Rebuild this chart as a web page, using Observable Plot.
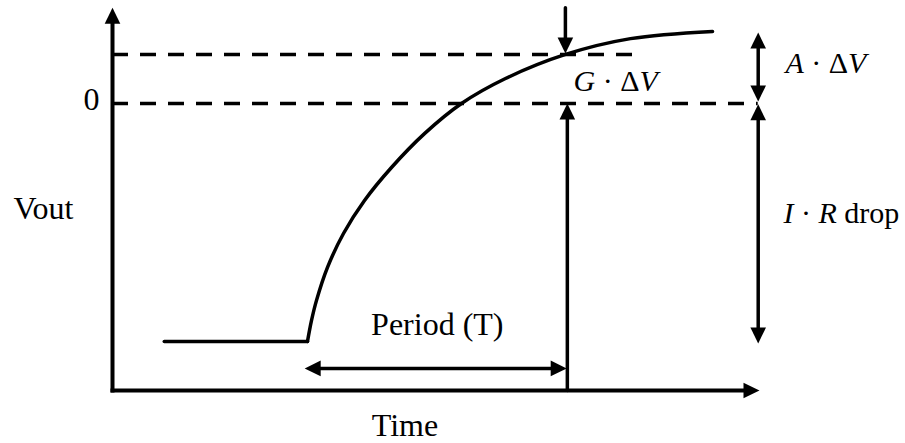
<!DOCTYPE html>
<html><head><meta charset="utf-8">
<script src="https://cdn.jsdelivr.net/npm/d3@7"></script>
<script src="https://cdn.jsdelivr.net/npm/@observablehq/plot@0.6"></script>
<style>html,body{margin:0;padding:0;background:#fff;} svg{display:block}</style>
</head><body><div id="chart"></div>
<script>
// ---- data (time units, volt units) ----
const flatTime = [8, 30.14];
const flatVout = [-8.29, -8.29];
const riseTime = [30.14, 30.76, 31.53, 33.23, 35.70, 38.95, 43.12, 48.22, 53.94, 60.74, 70.02, 80.06, 92.74];
const riseVout = [-8.29, -7.56, -6.86, -5.71, -4.53, -3.38, -2.23, -1.05, 0, 0.87, 1.71, 2.26, 2.51];
const zeroLevel = 0;
const gLevel = 1.71;
const axisBottom = -10, axisTop = 3.34, axisEnd = 100;
const gDashEnd = 80.4, zeroDashEnd = 99.8;
const sampleTime = 70.3;
const periodStart = 29.7, periodEnd = 70.2, periodLevel = -9.23;
const rightArrowTime = 99.8;
const aTop = 2.47, aBottom = 0.07, irTop = -0.03, irBottom = -8.36;
const labelTexts = ["0", "Vout", "Time", "Period (T)", "G · ΔV", "A · ΔV", "I · R drop"];
const labelTime  = [-2.0, -15.3, 45.2, 50.2, 71.25, 104.0, 103.7];
const labelVout  = [-0.24, -4.04, -11.57, -8.08, 0.45, 1.05, -4.18];
const labelAnchor = ["end", "start", "middle", "middle", "start", "start", "start"];
const labelMath = [false, false, false, false, true, true, true];

// ---- tables ----
const flat = flatTime.map((t, i) => ({t, v: flatVout[i]}));
const rise = riseTime.map((t, i) => ({t, v: riseVout[i]}));
const axes = [
  {x1: 0, y1: axisBottom, x2: 0, y2: axisTop},
  {x1: 0, y1: axisBottom, x2: axisEnd, y2: axisBottom}
];
const single = [
  {x1: sampleTime, y1: axisBottom, x2: sampleTime, y2: zeroLevel},
  {x1: 70.0, y1: axisTop, x2: 70.0, y2: 1.74}
];
const double = [
  {x1: periodStart, y1: periodLevel, x2: periodEnd, y2: periodLevel},
  {x1: rightArrowTime, y1: aTop, x2: rightArrowTime, y2: aBottom},
  {x1: rightArrowTime, y1: irTop, x2: rightArrowTime, y2: irBottom}
];
function rot(a, b) { // direction from a to b (screen)
  const ux = Math.sign(b.x - a.x), uy = -Math.sign(b.y - a.y);
  return Math.atan2(ux, -uy) * 180 / Math.PI;
}
const heads = [];
for (const d of [...axes, ...single, ...double]) {
  heads.push({x: d.x2, y: d.y2, r: rot({x: d.x1, y: d.y1}, {x: d.x2, y: d.y2})});
}
for (const d of double) {
  heads.push({x: d.x1, y: d.y1, r: rot({x: d.x2, y: d.y2}, {x: d.x1, y: d.y1})});
}
const labels = labelTexts.map((text, i) => ({text, t: labelTime[i], v: labelVout[i], anchor: labelAnchor[i], math: labelMath[i]}));

const headSymbol = {draw(ctx) { ctx.moveTo(0, 0); ctx.lineTo(-7.8, 16); ctx.lineTo(7.8, 16); ctx.closePath(); }};
const font = {fontFamily: "Liberation Serif, Times New Roman, serif", fill: "black", lineAnchor: "bottom"};
const textMarks = [];
for (const anchor of ["start", "middle", "end"]) {
  for (const math of [false, true]) {
    const sub = labels.filter(d => d.anchor === anchor && d.math === math);
    if (sub.length) textMarks.push(Plot.text(sub, {x: "t", y: "v", text: "text", textAnchor: anchor, fontSize: math ? 30 : 32, ...font}));
  }
}

const chart = Plot.plot({
  width: 905, height: 443, margin: 0,
  x: {domain: [0, 100], range: [112, 759], axis: null},
  y: {domain: [0, -10], range: [103, 390], axis: null},
  marks: [
    Plot.ruleY([gLevel], {x1: 0, x2: gDashEnd, stroke: "black", strokeWidth: 3.5, strokeDasharray: "16,12"}),
    Plot.ruleY([zeroLevel], {x1: 0, x2: zeroDashEnd, stroke: "black", strokeWidth: 3.5, strokeDasharray: "16,12"}),
    Plot.arrow(axes, {x1: "x1", y1: "y1", x2: "x2", y2: "y2", headLength: 0, insetEnd: 9, stroke: "black", strokeWidth: 4, strokeLinecap: "square"}),
    Plot.arrow(single, {x1: "x1", y1: "y1", x2: "x2", y2: "y2", headLength: 0, insetEnd: 9, stroke: "black", strokeWidth: 3.5}),
    Plot.arrow(double, {x1: "x1", y1: "y1", x2: "x2", y2: "y2", headLength: 0, insetStart: 9, insetEnd: 9, stroke: "black", strokeWidth: 3.5}),
    Plot.line(flat, {x: "t", y: "v", stroke: "black", strokeWidth: 3.5}),
    Plot.line(rise, {x: "t", y: "v", stroke: "black", strokeWidth: 3.5, curve: "catmull-rom"}),
    Plot.dot(heads, {x: "x", y: "y", rotate: "r", symbol: headSymbol, fill: "black", stroke: "none"}),
    ...textMarks
  ]
});

// italic math letters
const NS = "http://www.w3.org/2000/svg";
const italics = {"G · ΔV": [["G", 1], [" · Δ", 0], ["V", 1]], "A · ΔV": [["A", 1], [" · Δ", 0], ["V", 1]], "I · R drop": [["I", 1], [" · ", 0], ["R", 1], [" drop", 0]]};
chart.querySelectorAll("text").forEach(el => {
  const parts = italics[el.textContent];
  if (!parts) return;
  el.textContent = "";
  for (const [s, it] of parts) {
    const ts = document.createElementNS(NS, "tspan");
    ts.textContent = s;
    if (it) ts.setAttribute("font-style", "italic");
    el.appendChild(ts);
  }
});
document.getElementById("chart").appendChild(chart);
</script>
</body></html>
